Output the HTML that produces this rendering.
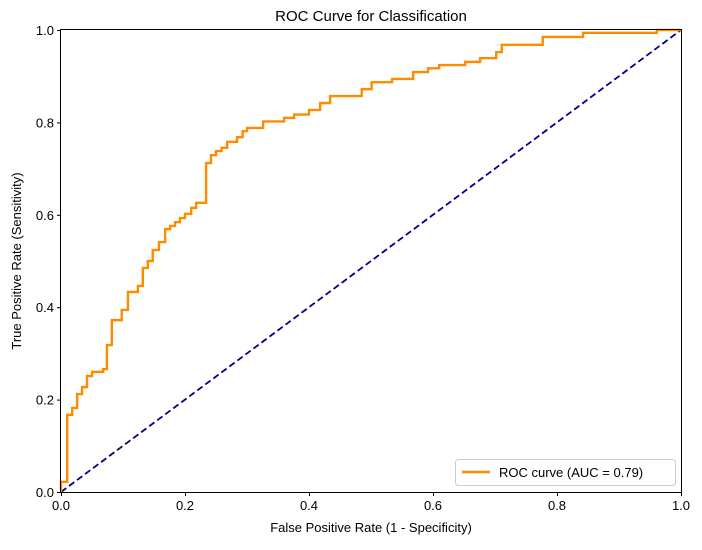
<!DOCTYPE html>
<html><head><meta charset="utf-8"><style>
body{margin:0;background:#fff;}
svg text{font-family:"Liberation Sans",sans-serif;fill:#000;}
</style></head><body>
<svg id="chart" width="702" height="545" xmlns="http://www.w3.org/2000/svg">
<rect width="702" height="545" fill="#fff"/>
<text x="371" y="21" font-size="15" text-anchor="middle">ROC Curve for Classification</text>
<g id="ticks"></g>
<polyline id="diag" fill="none" stroke="#000080" stroke-width="1.8" stroke-dasharray="6.5,3.5"/>
<polyline id="roc" fill="none" stroke="#ff8c00" stroke-width="2.4" stroke-linejoin="miter"/>
<rect x="60.5" y="29.5" width="621" height="463" fill="none" stroke="#000" stroke-width="1"/>
<text x="371" y="532" font-size="13" text-anchor="middle">False Positive Rate (1 - Specificity)</text>
<text transform="translate(21,261) rotate(-90)" font-size="13" text-anchor="middle">True Positive Rate (Sensitivity)</text>
<g>
<rect x="455.5" y="459.5" width="220" height="26" rx="3" fill="#fff" stroke="#ccc" stroke-width="1"/>
<line x1="462" y1="472" x2="490" y2="472" stroke="#ff8c00" stroke-width="2.4"/>
<text x="499" y="477" font-size="13">ROC curve (AUC = 0.79)</text>
</g>
</svg>
<script>
const fpr=[0,0,0.01,0.01,0.018,0.018,0.026,0.026,0.034,0.034,0.042,0.042,0.05,0.05,0.068,0.068,0.074,0.074,0.082,0.082,0.098,0.098,0.108,0.108,0.124,0.124,0.132,0.132,0.140,0.140,0.148,0.148,0.158,0.158,0.168,0.168,0.176,0.176,0.184,0.184,0.192,0.192,0.2,0.2,0.21,0.21,0.218,0.218,0.234,0.234,0.242,0.242,0.25,0.25,0.259,0.259,0.268,0.268,0.284,0.284,0.293,0.293,0.3,0.3,0.326,0.326,0.36,0.36,0.376,0.376,0.4,0.4,0.418,0.418,0.434,0.434,0.485,0.485,0.501,0.501,0.534,0.534,0.568,0.568,0.592,0.592,0.61,0.61,0.652,0.652,0.676,0.676,0.702,0.702,0.711,0.711,0.777,0.777,0.842,0.842,0.961,0.961,1];
const tpr=[0,0.022,0.022,0.167,0.167,0.182,0.182,0.212,0.212,0.227,0.227,0.251,0.251,0.260,0.260,0.266,0.266,0.318,0.318,0.372,0.372,0.394,0.394,0.433,0.433,0.446,0.446,0.485,0.485,0.5,0.5,0.524,0.524,0.541,0.541,0.569,0.569,0.576,0.576,0.584,0.584,0.593,0.593,0.602,0.602,0.615,0.615,0.626,0.626,0.712,0.712,0.729,0.729,0.738,0.738,0.745,0.745,0.758,0.758,0.768,0.768,0.781,0.781,0.788,0.788,0.802,0.802,0.810,0.810,0.817,0.817,0.827,0.827,0.842,0.842,0.857,0.857,0.872,0.872,0.887,0.887,0.894,0.894,0.909,0.909,0.917,0.917,0.924,0.924,0.931,0.931,0.939,0.939,0.952,0.952,0.968,0.968,0.985,0.985,0.994,0.994,1,1];
const xTicks=[0,0.2,0.4,0.6,0.8,1.0];
const yTicks=[0,0.2,0.4,0.6,0.8,1.0];
const xTickLabels=["0.0","0.2","0.4","0.6","0.8","1.0"];
const yTickLabels=["0.0","0.2","0.4","0.6","0.8","1.0"];
const X0=61,X1=681,Y0=492,Y1=30;
function sx(v){return X0+v*(X1-X0);}
function sy(v){return Y0-v*(Y0-Y1);}
const NS="http://www.w3.org/2000/svg";
const g=document.getElementById('ticks');
xTicks.forEach((t,i)=>{
  const l=document.createElementNS(NS,'line');
  l.setAttribute('x1',sx(t)+0.5);l.setAttribute('x2',sx(t)+0.5);l.setAttribute('y1',Y0);l.setAttribute('y2',Y0+4);l.setAttribute('stroke','#000');
  
  
  g.appendChild(l);
  const tx=document.createElementNS(NS,'text');
  tx.setAttribute('x',sx(t));tx.setAttribute('y',Y0+18);tx.setAttribute('font-size','13');tx.setAttribute('text-anchor','middle');
  tx.textContent=xTickLabels[i];
  
  
  g.appendChild(tx);
});
yTicks.forEach((t,i)=>{
  const l=document.createElementNS(NS,'line');
  l.setAttribute('x1',X0-4);l.setAttribute('x2',X0);l.setAttribute('y1',sy(t)+0.5);l.setAttribute('y2',sy(t)+0.5);l.setAttribute('stroke','#000');
  
  
  g.appendChild(l);
  const tx=document.createElementNS(NS,'text');
  tx.setAttribute('x',X0-7);tx.setAttribute('y',sy(t)+5);tx.setAttribute('font-size','13');tx.setAttribute('text-anchor','end');
  tx.textContent=yTickLabels[i];
  
  
  g.appendChild(tx);
});
document.getElementById('roc').setAttribute('points',fpr.map((f,i)=>sx(f)+','+sy(tpr[i])).join(' '));
document.getElementById('diag').setAttribute('points',sx(0)+','+sy(0)+' '+sx(1)+','+sy(1));
</script>
</body></html>
